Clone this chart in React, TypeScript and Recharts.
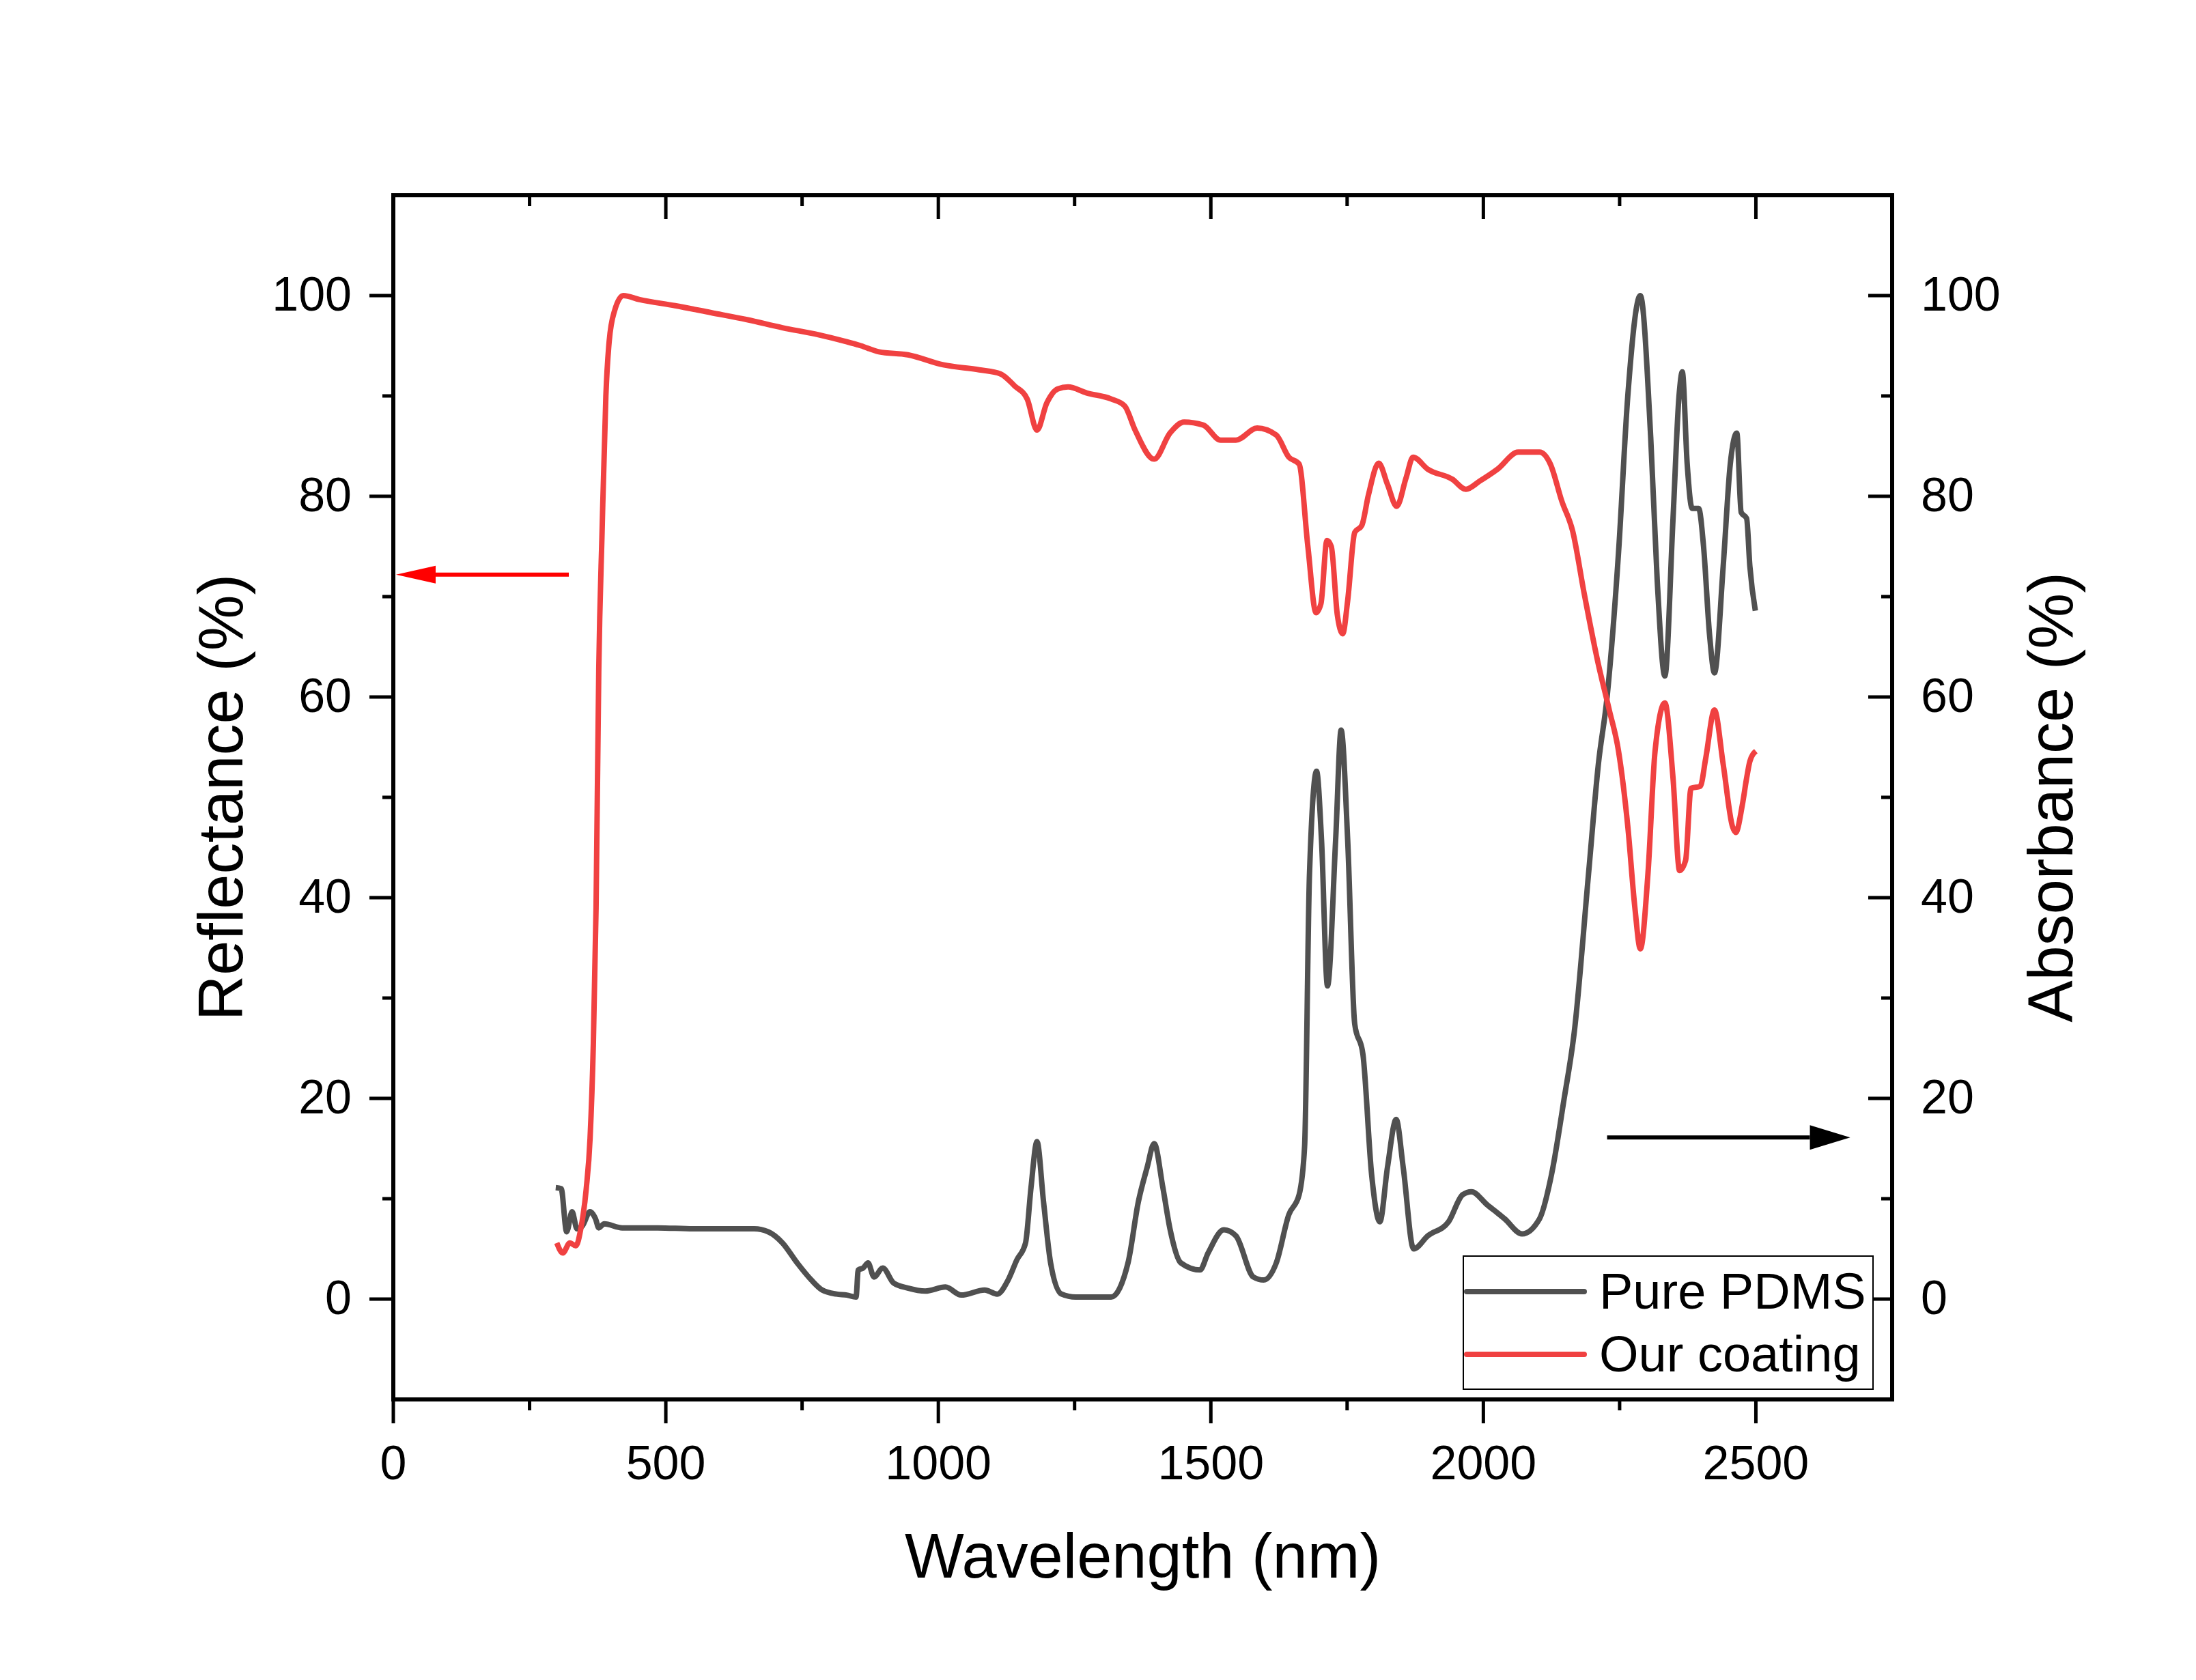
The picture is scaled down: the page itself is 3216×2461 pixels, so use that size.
import React from 'react';
import { ComposedChart, Line, XAxis, YAxis, Legend, ReferenceLine } from 'recharts';

const FONT = '"Liberation Sans", Arial, Helvetica, sans-serif';

// Our coating: reflectance (%), left axis
const coatingWl = [
  300, 311, 324, 335, 344, 354, 361, 367, 372, 377, 383, 390, 396, 406, 422, 452, 517, 583, 649, 714,
  780, 832, 858, 891, 944, 1009, 1075, 1114, 1140, 1163, 1181, 1199, 1219, 1238, 1272, 1317, 1342, 1361, 1396, 1425,
  1451, 1486, 1518, 1546, 1585, 1620, 1643, 1662, 1678, 1693, 1702, 1713, 1721, 1732, 1742, 1751, 1764, 1777, 1789, 1808,
  1824, 1841, 1858, 1871, 1898, 1943, 1968, 1993, 2026, 2064, 2103, 2123, 2144, 2164, 2185, 2210, 2231, 2248, 2265, 2278,
  2288, 2302, 2315, 2333, 2348, 2360, 2371, 2381, 2398, 2408, 2424, 2440, 2457, 2463, 2475, 2483, 2489, 2500,
];
const coatingVal = [
  5.6, 4.6, 5.6, 5.3, 7, 11, 16, 25.4, 39, 62.8, 76.4, 90, 95.4, 98.5, 100, 99.6, 99, 98.3, 97.6, 96.8,
  96.1, 95.4, 95, 94.4, 94.1, 93.1, 92.6, 92.2, 91, 89.7, 86.6, 89.3, 90.7, 90.9, 90.3, 89.7, 89, 86.6, 83.7, 86.3,
  87.4, 87.1, 85.6, 85.6, 86.8, 86.1, 83.9, 83.2, 75, 68.4, 69.3, 75.6, 75, 68.2, 66.3, 69.6, 76.4, 77.1, 80.1, 83.3,
  81.2, 79, 81.8, 83.9, 82.7, 81.7, 80.7, 81.5, 82.7, 84.4, 84.4, 83.2, 79.5, 76.5, 70.3, 63.5, 58.7, 54.6, 47.1, 39,
  34.9, 42.4, 54.6, 59.4, 51.9, 42.7, 43.7, 50.9, 51.1, 53.9, 58.7, 53.3, 47.1, 46.5, 49.2, 51.9, 53.6, 54.6,
];

// Pure PDMS: absorbance (%), right axis
const pdmsWl = [
  298, 308, 318, 328, 337, 347, 361, 371, 377, 387, 420, 485, 550, 616, 662, 688, 714, 741, 767, 787,
  813, 832, 849, 853, 862, 871, 882, 898, 918, 944, 976, 1013, 1042, 1085, 1108, 1128, 1144, 1160, 1170, 1181,
  1193, 1206, 1226, 1252, 1317, 1348, 1367, 1383, 1396, 1412, 1425, 1445, 1480, 1495, 1524, 1546, 1578, 1597, 1620, 1643,
  1662, 1672, 1681, 1694, 1703, 1714, 1729, 1739, 1751, 1764, 1779, 1795, 1810, 1824, 1840, 1853, 1872, 1898, 1936, 1962,
  1978, 2007, 2039, 2071, 2103, 2125, 2148, 2167, 2193, 2211, 2227, 2248, 2265, 2288, 2307, 2319, 2333, 2348, 2359, 2365,
  2374, 2383, 2395, 2404, 2415, 2424, 2440, 2453, 2465, 2473, 2483, 2489, 2499,
];
const pdmsVal = [
  11.1, 11, 6.7, 8.7, 7, 7.3, 8.7, 8, 7.1, 7.5, 7.1, 7.1, 7, 7, 7, 6.7, 5.6, 3.6, 1.9, 0.9,
  0.5, 0.4, 0.2, 2.9, 3.1, 3.6, 2.2, 3.1, 1.6, 1.1, 0.8, 1.2, 0.4, 0.9, 0.5, 1.9, 3.9, 5.6, 11.1, 15.7,
  9.7, 3.6, 0.5, 0.2, 0.2, 3.6, 9.7, 13.1, 15.5, 11.1, 7, 3.6, 2.9, 4.6, 6.9, 6.3, 2.2, 1.9, 3.6, 8.4,
  10.4, 15.2, 42.4, 52.6, 45.8, 31.2, 45.8, 56.7, 45.8, 27.4, 24.4, 12.4, 7.7, 13.1, 17.9, 13.1, 5, 6.3, 7.7, 10.4,
  10.7, 9.4, 8, 6.5, 8, 12.4, 19.9, 26.7, 42.4, 53.3, 60, 74.4, 90, 100, 85.9, 71.6, 62.1, 77.8, 90, 92.4,
  83.2, 78.8, 78.8, 75, 66.2, 62.4, 73, 83.2, 86.3, 78.4, 77.8, 73, 68.6,
];

const xTicks = [0, 250, 500, 750, 1000, 1250, 1500, 1750, 2000, 2250, 2500];
const yTicks = [0, 10, 20, 30, 40, 50, 60, 70, 80, 90, 100];
const seriesNames = ['Pure PDMS', 'Our coating'];
const seriesColors = ['#505050', '#F04141'];

// arrows pointing at the axis each curve belongs to (data coordinates)
const reflArrow = [{ x: 322, y: 72.2 }, { x: 5, y: 72.2 }];
const absArrow = [{ x: 2227, y: 16.1 }, { x: 2673, y: 16.1 }];

const coatingData = coatingWl.map((wl, i) => ({ wl, v: coatingVal[i] }));
const pdmsData = pdmsWl.map((wl, i) => ({ wl, v: pdmsVal[i] }));

const W = 3216;
const H = 2461;
const MAJOR = 35;
const MINOR = 16;
const TICK_FS = 70;

const tickLine = { stroke: '#000', strokeWidth: 5 };
const axisLine = { stroke: '#000', strokeWidth: 6, strokeLinecap: 'square' as const };

const LeftTick = ({ x, y, payload }: any) => {
  const major = payload.value % 20 === 0;
  return (
    <g>
      <line x1={x} y1={y} x2={x - (major ? MAJOR : MINOR)} y2={y} {...tickLine} />
      {major && (
        <text x={x - 61} y={y + 22} textAnchor="end" fontSize={TICK_FS} fontFamily={FONT} fill="#000">
          {payload.value}
        </text>
      )}
    </g>
  );
};

const RightTick = ({ x, y, payload }: any) => {
  const major = payload.value % 20 === 0;
  return (
    <g>
      <line x1={x} y1={y} x2={x - (major ? MAJOR : MINOR)} y2={y} {...tickLine} />
      {major && (
        <text x={x + 42} y={y + 22} textAnchor="start" fontSize={TICK_FS} fontFamily={FONT} fill="#000">
          {payload.value}
        </text>
      )}
    </g>
  );
};

const BottomTick = ({ x, y, payload }: any) => {
  const major = payload.value % 500 === 0;
  return (
    <g>
      <line x1={x} y1={y} x2={x} y2={y + (major ? MAJOR : MINOR)} {...tickLine} />
      {major && (
        <text x={x} y={y + 117} textAnchor="middle" fontSize={TICK_FS} fontFamily={FONT} fill="#000">
          {payload.value}
        </text>
      )}
    </g>
  );
};

const TopTick = ({ x, y, payload }: any) => {
  const major = payload.value % 500 === 0;
  return <line x1={x} y1={y} x2={x} y2={y + (major ? MAJOR : MINOR)} {...tickLine} />;
};

const axisTitle = (text: string, place: 'left' | 'right' | 'bottom') => (props: any) => {
  const vb = props.viewBox || {};
  let x = 0;
  let y = 0;
  let rotate = false;
  if (place === 'left') {
    x = (vb.x ?? 0) + (vb.width ?? 576) - 221;
    y = (vb.y ?? 286) + (vb.height ?? 1764) / 2;
    rotate = true;
  } else if (place === 'right') {
    x = (vb.x ?? 2771) + 264;
    y = (vb.y ?? 286) + (vb.height ?? 1764) / 2;
    rotate = true;
  } else {
    x = (vb.x ?? 576) + (vb.width ?? 2195) / 2;
    y = (vb.y ?? 2050) + 261;
  }
  return (
    <text
      x={x}
      y={y}
      textAnchor="middle"
      fontSize={92}
      fontFamily={FONT}
      fill="#000"
      transform={rotate ? `rotate(-90 ${x} ${y})` : undefined}
    >
      {text}
    </text>
  );
};

const arrowShape = (color: string, headLen: number, headHalf: number) => (p: any) => {
  const { x1, y1, x2, y2 } = p;
  const dir = x2 > x1 ? 1 : -1;
  const bx = x2 - dir * headLen;
  return (
    <g>
      <line x1={x1} y1={y1} x2={bx} y2={y2} stroke={color} strokeWidth={6} />
      <polygon points={`${x2},${y2} ${bx},${y2 - headHalf} ${bx},${y2 + headHalf}`} fill={color} />
    </g>
  );
};

const renderLegend = (props: any) => {
  const payload = props.payload || [];
  return (
    <div
      style={{
        width: 602,
        height: 197,
        border: '2px solid #000',
        boxSizing: 'border-box',
        background: '#fff',
      }}
    >
      <svg width={598} height={193} style={{ display: 'block' }}>
        {seriesNames.map((name, i) => {
          const entry = payload.find((e: any) => e.value === name);
          const color = entry?.color || seriesColors[i];
          const ly = 51 + i * 92;
          return (
            <g key={name}>
              <line x1={4} y1={ly} x2={176} y2={ly} stroke={color} strokeWidth={8} strokeLinecap="round" />
              <text x={198} y={ly + 25} fontSize={74} fontFamily={FONT} fill="#000">
                {name}
              </text>
            </g>
          );
        })}
      </svg>
    </div>
  );
};

export default function App() {
  return (
    <div style={{ position: 'absolute', left: 0, top: 0, width: W, height: H, background: '#fff' }}>
      <ComposedChart width={W} height={H} margin={{ top: 0, right: 0, bottom: 0, left: 0 }}>
        <XAxis
          xAxisId="bottom"
          dataKey="wl"
          type="number"
          orientation="bottom"
          domain={[0, 2750]}
          ticks={xTicks}
          interval={0}
          height={411}
          tickSize={0}
          tickMargin={0}
          tickLine={false}
          axisLine={axisLine}
          tick={<BottomTick />}
          label={axisTitle('Wavelength (nm)', 'bottom')}
        />
        <XAxis
          xAxisId="top"
          dataKey="wl"
          type="number"
          orientation="top"
          domain={[0, 2750]}
          ticks={xTicks}
          interval={0}
          height={286}
          tickSize={0}
          tickMargin={0}
          tickLine={false}
          axisLine={axisLine}
          tick={<TopTick />}
        />
        <YAxis
          yAxisId="left"
          type="number"
          orientation="left"
          domain={[-10, 110]}
          ticks={yTicks}
          interval={0}
          width={576}
          tickSize={0}
          tickMargin={0}
          tickLine={false}
          axisLine={axisLine}
          tick={<LeftTick />}
          label={axisTitle('Reflectance (%)', 'left')}
        />
        <YAxis
          yAxisId="right"
          type="number"
          orientation="right"
          domain={[-10, 110]}
          ticks={yTicks}
          interval={0}
          width={445}
          tickSize={0}
          tickMargin={0}
          tickLine={false}
          axisLine={axisLine}
          tick={<RightTick />}
          label={axisTitle('Absorbance (%)', 'right')}
        />
        <Line
          name={seriesNames[0]}
          data={pdmsData}
          dataKey="v"
          xAxisId="top"
          yAxisId="right"
          type="monotone"
          stroke={seriesColors[0]}
          strokeWidth={8}
          dot={false}
          activeDot={false}
          isAnimationActive={false}
        />
        <Line
          name={seriesNames[1]}
          data={coatingData}
          dataKey="v"
          xAxisId="bottom"
          yAxisId="left"
          type="monotone"
          stroke={seriesColors[1]}
          strokeWidth={8}
          dot={false}
          activeDot={false}
          isAnimationActive={false}
        />
        <ReferenceLine
          xAxisId="bottom"
          yAxisId="left"
          segment={reflArrow}
          ifOverflow="visible"
          shape={arrowShape('#FF0000', 58, 13)}
        />
        <ReferenceLine
          xAxisId="top"
          yAxisId="right"
          segment={absArrow}
          ifOverflow="visible"
          shape={arrowShape('#000000', 59, 18)}
        />
        <Legend
          layout="vertical"
          verticalAlign="middle"
          align="center"
          content={renderLegend}
          wrapperStyle={{ left: 2142, top: 1839, width: 602, height: 197 }}
        />
      </ComposedChart>
    </div>
  );
}
